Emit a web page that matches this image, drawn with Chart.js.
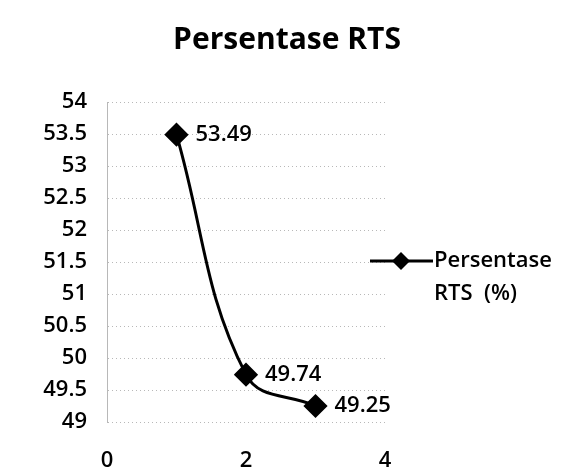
<!DOCTYPE html>
<html>
<head>
<meta charset="utf-8">
<script src="https://cdn.jsdelivr.net/npm/chart.js@4/dist/chart.umd.min.js"></script>
<style>
  html, body { margin: 0; padding: 0; background: #fff; }
  #wrap { width: 561px; height: 471px; }
</style>
</head>
<body>
<div id="wrap"><canvas id="rts_chart" width="561" height="471"></canvas></div>
<script>
// data
let x_values = [1, 2, 3];
let rts_values = [53.49, 49.74, 49.25];
let series_label = 'Persentase RTS (%)';
let legend_lines = ['Persentase', 'RTS  (%)'];
let chart_title = 'Persentase RTS';

let font_family = '"Open Sans", "DejaVu Sans", sans-serif';

// title, centred over the whole picture (not only the plot)
const topTitle = {
    id: 'topTitle',
    afterDraw(chart) {
        let ctx = chart.ctx;
        ctx.save();
        ctx.fillStyle = '#000';
        ctx.font = 'bold 30px ' + font_family;
        ctx.textAlign = 'center';
        ctx.textBaseline = 'middle';
        ctx.fillText(chart_title, 287, 40);
        ctx.restore();
    }
};

// value labels to the right of each point
const valueLabels = {
    id: 'valueLabels',
    afterDatasetsDraw(chart) {
        let ctx = chart.ctx;
        let meta = chart.getDatasetMeta(0);
        ctx.save();
        ctx.fillStyle = '#000';
        ctx.font = '600 22px ' + font_family;
        ctx.textAlign = 'left';
        ctx.textBaseline = 'middle';
        meta.data.forEach(function(pt, i) {
            ctx.fillText(rts_values[i].toFixed(2), pt.x + 19, pt.y);
        });
        ctx.restore();
    }
};

// legend on the right, wrapped on two lines
const sideLegend = {
    id: 'sideLegend',
    afterDraw(chart) {
        let ctx = chart.ctx;
        let x0 = 370, y0 = 261;
        ctx.save();
        ctx.strokeStyle = '#000';
        ctx.lineWidth = 3;
        ctx.beginPath();
        ctx.moveTo(x0, y0);
        ctx.lineTo(x0 + 63, y0);
        ctx.stroke();
        ctx.fillStyle = '#000';
        ctx.beginPath();
        ctx.moveTo(x0 + 31, y0 - 9);
        ctx.lineTo(x0 + 40, y0);
        ctx.lineTo(x0 + 31, y0 + 9);
        ctx.lineTo(x0 + 22, y0);
        ctx.closePath();
        ctx.fill();
        ctx.font = '600 22px ' + font_family;
        ctx.textBaseline = 'middle';
        ctx.fillText(legend_lines[0], x0 + 64, y0);
        ctx.fillText(legend_lines[1], x0 + 64, y0 + 33);
        ctx.restore();
    }
};

let ctx = document.getElementById('rts_chart');

let rts_chart = new Chart(ctx, {
    type: 'scatter',
    data: {
        datasets: [
            {
                label: series_label,
                data: x_values.map(function(x, i) { return { x: x, y: rts_values[i] }; }),
                showLine: true,
                tension: 0.4,
                borderColor: '#000',
                backgroundColor: '#000',
                borderWidth: 3,
                pointStyle: 'rectRot',
                pointRadius: 10,
                pointHoverRadius: 10
            }
        ]
    },
    options: {
        responsive: false,
        animation: false,
        layout: {
            padding: { top: 102, right: 176, bottom: 0, left: 0 }
        },
        scales: {
            x: {
                type: 'linear',
                min: 0,
                max: 4,
                ticks: {
                    stepSize: 2,
                    color: '#000',
                    padding: 26,
                    font: { family: font_family, size: 22, weight: '600' }
                },
                grid: { display: false, drawTicks: false },
                border: { display: false },
                afterFit: function(scale) { scale.height = 49; }
            },
            y: {
                min: 49,
                max: 54,
                ticks: {
                    stepSize: 0.5,
                    color: '#000',
                    padding: 20,
                    font: { family: font_family, size: 22, weight: '600' },
                    callback: function(value) { return String(Number(value.toFixed(1))); }
                },
                grid: {
                    color: '#b8b8b8',
                    lineWidth: 1,
                    drawTicks: false
                },
                border: { display: true, color: '#b8b8b8', dash: [1, 3] },
                afterFit: function(scale) { scale.width = 107; }
            }
        },
        plugins: {
            legend: { display: false },
            tooltip: { enabled: false },
            title: { display: false }
        }
    },
    plugins: [topTitle, valueLabels, sideLegend]
});
</script>
</body>
</html>
